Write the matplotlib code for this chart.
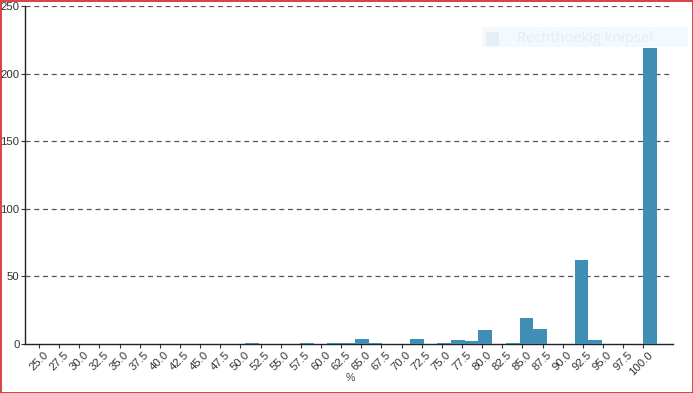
import numpy as np
import matplotlib
matplotlib.use("Agg")
import matplotlib.pyplot as plt
from matplotlib.patches import Rectangle
from matplotlib.transforms import ScaledTranslation

plt.rcParams['font.family'] = ['Liberation Sans', 'DejaVu Sans']

# histogram: 45 bins starting at 25, width 75/44
bin_start = 25.0
bin_width = 75.0 / 44
counts = [0, 0, 0, 0, 0, 0, 0, 0, 0, 0,
          0, 0, 0, 0, 0, 1, 0, 0, 0, 1,
          0, 1, 1, 4, 1, 0, 0, 4, 0, 1,
          3, 2, 10, 0, 1, 19, 11, 0, 0, 62,
          3, 0, 0, 0, 219]
x_ticks = [25 + 2.5 * i for i in range(31)]
x_ticklabels = [f"{v:.1f}" for v in x_ticks]
y_ticks = [0, 50, 100, 150, 200, 250]
x_label = "%"

W, H = 693, 393
fig = plt.figure(figsize=(W / 100, H / 100), dpi=100)
ax = fig.add_axes([25 / W, 1 - 344 / H, (673 - 25) / W, (344 - 6) / H])

lefts = bin_start + np.arange(len(counts)) * bin_width
ax.bar(lefts, counts, width=bin_width, align='edge', color='#408db6',
       edgecolor='none', linewidth=0, zorder=3)

ax.set_xlim(23.26, 103.69)
ax.set_ylim(0, 250)
ax.set_xticks(x_ticks)
ax.set_xticklabels(x_ticklabels, rotation=45, ha='right', rotation_mode='anchor',
                   fontsize=8.2, color='#333333')
ax.set_yticks(y_ticks)
ax.set_yticklabels([str(v) for v in y_ticks], fontsize=8.2, color='#333333')
ax.tick_params(axis='both', length=3, width=0.8, color='#333333', pad=1)
ax.tick_params(axis='x', pad=2)
off = ScaledTranslation(4 / 100, 1 / 100, fig.dpi_scale_trans)
for lab in ax.get_xticklabels():
    lab.set_transform(lab.get_transform() + off)

for v in y_ticks[1:]:
    ax.axhline(v, color='#555555', linewidth=0.9, linestyle=(0, (4, 3)), zorder=1)

for s in ['top', 'right']:
    ax.spines[s].set_visible(False)
ax.spines['left'].set_color('#222222')
ax.spines['bottom'].set_color('#222222')
ax.spines['left'].set_linewidth(1)
ax.spines['bottom'].set_linewidth(1)

fig.text(350 / W, 1 - 378 / H, x_label, ha='center', va='center',
         fontsize=7.5, color='#444444')

# faint snipping overlay
fig.patches.append(Rectangle((482 / W, 1 - 47 / H), (688 - 482) / W, 20 / H,
                             transform=fig.transFigure, facecolor='#eef5fc',
                             edgecolor='none', alpha=0.6, zorder=0))
fig.patches.append(Rectangle((486 / W, 1 - 46 / H), 13 / W, 14 / H,
                             transform=fig.transFigure, facecolor='#e2ecf8',
                             edgecolor='none', alpha=0.8, zorder=0))
fig.text(517 / W, 1 - 39 / H, "Rechthoekig knipsel", ha='left', va='center',
         fontsize=10.5, color='#e4ecf6', family=['Open Sans', 'DejaVu Sans'])

# red border of the screenshot
fig.patches.append(Rectangle((0.5 / W, 0.5 / H), (W - 1) / W, (H - 1) / H,
                             transform=fig.transFigure, facecolor='none',
                             edgecolor='#d42020', linewidth=1.2, zorder=10))

fig.savefig("out.png", dpi=100)
